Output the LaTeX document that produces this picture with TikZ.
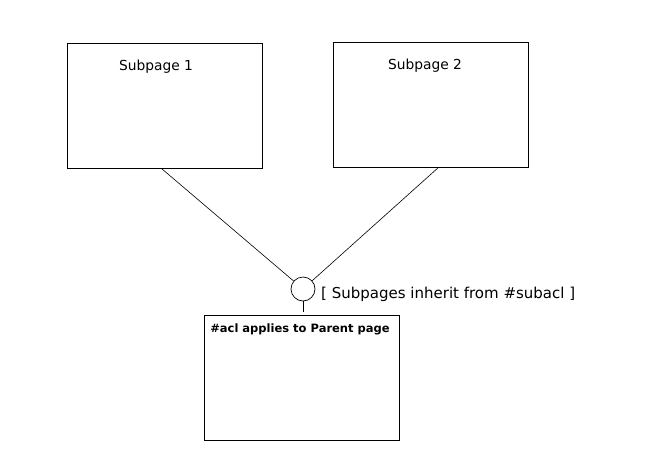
\documentclass[tikz,border=0pt]{standalone}
\usepackage{fontspec}
\setmainfont{DejaVu Sans}
\usetikzlibrary{positioning}
\tikzset{
  pagebox/.style={
    draw=black, line width=0.9pt, fill=white,
    minimum width=195pt, minimum height=125pt,
    inner sep=0pt, anchor=north west
  },
  pagelabel/.style={font=\fontsize{13.8}{16}\selectfont, inner sep=0pt},
  hub/.style={circle, draw=black, line width=0.7pt, minimum size=24pt, inner sep=0pt},
  link/.style={draw=black, line width=0.6pt}
}

\begin{document}
\begin{tikzpicture}[x=1pt,y=-1pt]
    \useasboundingbox[fill=white] (0,0) rectangle (650,458);

    \node[pagebox] (sub1) at (67,43) {};
    \node[pagelabel] (sub1lbl) at (156,67) {Subpage 1};
    \node[pagebox] (sub2) at (333,42) {};
    \node[pagelabel] (sub2lbl) at (425,66) {Subpage 2};
    \node[pagebox] (parent) at (204,315) {};
    \node[pagelabel, font=\fontsize{11.5}{13}\selectfont\bfseries] (parentlbl) at (300,329)
      {\#acl applies to Parent page};

    \node[hub] (inherit) at (303,289) {};
    \node[pagelabel, anchor=west, font=\fontsize{15}{17}\selectfont] (inheritlbl) at (321,294)
      {[ Subpages inherit from \#subacl ]};

    \coordinate (sub1foot) at ([xshift=-3pt]sub1.south);
    \coordinate (sub2foot) at ([xshift=7pt]sub2.south);
    \coordinate (parenttop) at (303,312);
    \draw[link] (sub1foot) -- (inherit);
    \draw[link] (sub2foot) -- (inherit);
    \draw[link] (inherit) -- (parenttop);
\end{tikzpicture}
\end{document}
